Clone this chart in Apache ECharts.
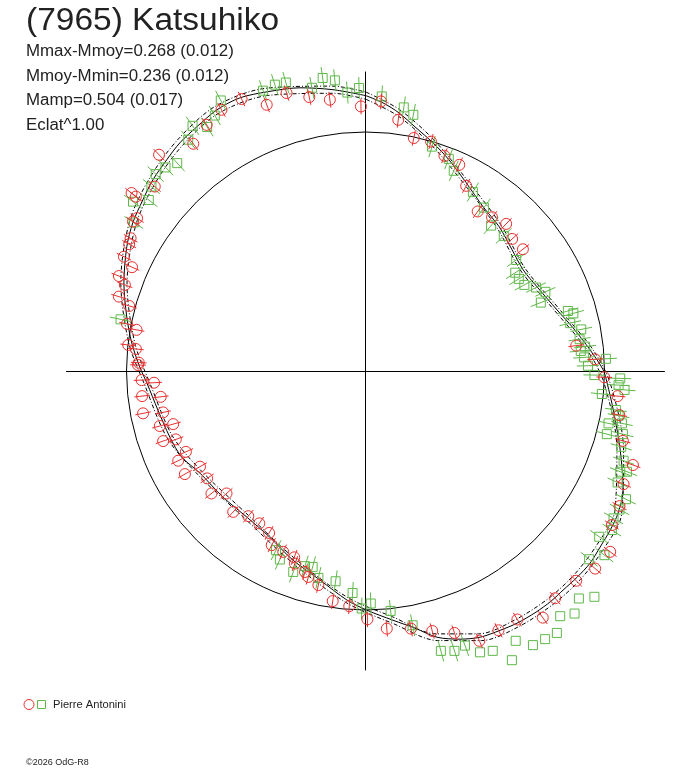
<!DOCTYPE html>
<html>
<head>
<meta charset="utf-8">
<script src="https://cdn.jsdelivr.net/npm/echarts@6/dist/echarts.min.js"></script>
<style>
html, body { margin: 0; padding: 0; background: #fff; }
#chart { width: 688px; height: 768px; }
</style>
</head>
<body>
<div id="chart"></div>
<script>
// Polar lightcurve: positions in units of the reference circle (r = 1), x right, y up.
const TITLE = '(7965) Katsuhiko';
const STATS = ['Mmax-Mmoy=0.268 (0.012)', 'Mmoy-Mmin=0.236 (0.012)', 'Mamp=0.504 (0.017)', 'Eclat^1.00'];
const OBSERVER = 'Pierre Antonini';
const CREDIT = '\u00a92026 OdG-R8';

const fitCurve = [
  [0.002,1.151],[0.073,1.121],[0.140,1.079],[0.211,1.017],[0.282,0.954],[0.349,0.883],[0.421,0.787],[0.492,0.686],
  [0.559,0.603],[0.613,0.506],[0.659,0.423],[0.718,0.351],[0.801,0.255],[0.868,0.180],[0.939,0.088],[0.994,0.004],
  [1.010,-0.050],[1.036,-0.163],[1.065,-0.331],[1.077,-0.498],[1.056,-0.594],[1.023,-0.665],[0.981,-0.736],[0.939,-0.803],
  [0.885,-0.862],[0.826,-0.916],[0.776,-0.962],[0.713,-1.008],[0.634,-1.054],[0.563,-1.084],[0.479,-1.113],[0.395,-1.121],
  [0.299,-1.113],[0.207,-1.075],[0.115,-1.042],[0.006,-1.000],[-0.077,-0.958],[-0.190,-0.874],[-0.303,-0.791],[-0.400,-0.695],
  [-0.496,-0.611],[-0.596,-0.527],[-0.692,-0.427],[-0.768,-0.360],[-0.818,-0.276],[-0.868,-0.163],[-0.914,-0.050],[-0.944,0.017],
  [-0.977,0.117],[-0.998,0.226],[-1.010,0.368],[-0.998,0.519],[-0.973,0.619],[-0.931,0.715],[-0.889,0.799],[-0.831,0.883],
  [-0.776,0.954],[-0.705,1.021],[-0.621,1.092],[-0.525,1.142],[-0.412,1.167],[-0.274,1.184],[-0.136,1.176],[0.002,1.151]
];
const outerEnv = [
  [0.002,1.166],[0.142,1.093],[0.286,0.966],[0.426,0.797],[0.566,0.611],[0.668,0.428],[0.811,0.258],[0.951,0.089],
  [1.023,-0.051],[1.079,-0.335],[1.070,-0.602],[0.994,-0.746],[0.897,-0.873],[0.786,-0.974],[0.642,-1.068],[0.485,-1.127],
  [0.303,-1.127],[0.116,-1.056],[-0.078,-0.970],[-0.307,-0.801],[-0.502,-0.619],[-0.701,-0.433],[-0.829,-0.280],[-0.926,-0.051],
  [-0.990,0.119],[-1.023,0.373],[-0.986,0.627],[-0.901,0.809],[-0.786,0.966],[-0.629,1.106],[-0.417,1.182],[-0.138,1.191],[0.002,1.166]
];
const innerEnv = [
  [0.002,1.136],[0.138,1.065],[0.278,0.942],[0.416,0.777],[0.552,0.595],[0.650,0.418],[0.791,0.252],[0.927,0.087],
  [0.997,-0.049],[1.051,-0.327],[1.042,-0.586],[0.968,-0.726],[0.873,-0.851],[0.766,-0.950],[0.626,-1.040],[0.473,-1.099],
  [0.295,-1.099],[0.114,-1.028],[-0.076,-0.946],[-0.299,-0.781],[-0.490,-0.603],[-0.683,-0.421],[-0.807,-0.272],[-0.902,-0.049],
  [-0.964,0.115],[-0.997,0.363],[-0.960,0.611],[-0.877,0.789],[-0.766,0.942],[-0.613,1.078],[-0.407,1.152],[-0.134,1.161],[0.002,1.136]
];

// [x, y, radial error]
const redPts = [
  [-0.518,1.137,0.033],[-0.413,1.113,0.033],[-0.330,1.162,0.033],[-0.235,1.145,0.033],[-0.149,1.134,0.033],[-0.019,1.106,0.033],
  [-0.602,1.092,0.033],[-0.664,1.029,0.033],[-0.720,0.950,0.033],[-0.863,0.904,0.033],[-0.881,0.771,0.033],[-0.978,0.744,0.033],
  [-0.960,0.729,0.033],[-0.955,0.639,0.033],[-0.972,0.625,0.033],[-0.982,0.555,0.033],[-0.988,0.530,0.033],[-1.010,0.478,0.033],
  [-0.976,0.434,0.033],[-1.031,0.397,0.033],[-1.006,0.360,0.033],[-1.031,0.311,0.033],[-0.988,0.272,0.033],[-0.997,0.197,0.033],
  [-0.957,0.172,0.033],[-0.992,0.109,0.033],[-0.960,0.092,0.033],[-0.948,0.035,0.033],[-0.951,0.025,0.033],[-0.936,-0.038,0.033],
  [-0.884,-0.049,0.033],[-0.934,-0.105,0.033],[-0.856,-0.108,0.033],[-0.930,-0.177,0.033],[-0.846,-0.173,0.033],[-0.860,-0.230,0.033],
  [-0.804,-0.222,0.033],[-0.846,-0.293,0.033],[-0.793,-0.286,0.033],[-0.751,-0.338,0.033],[-0.783,-0.375,0.033],[-0.692,-0.400,0.033],
  [-0.755,-0.431,0.033],[-0.662,-0.449,0.033],[-0.644,-0.512,0.033],[-0.581,-0.512,0.033],[-0.553,-0.589,0.033],[-0.490,-0.607,0.033],
  [-0.444,-0.637,0.033],[-0.403,-0.677,0.033],[-0.392,-0.728,0.033],[-0.344,-0.756,0.033],[-0.298,-0.779,0.033],[-0.295,-0.805,0.033],
  [-0.253,-0.840,0.033],[-0.239,-0.861,0.033],[-0.197,-0.895,0.033],[-0.137,-0.962,0.033],[-0.068,-0.983,0.033],[0.008,-1.038,0.033],
  [0.089,-1.077,0.033],[0.190,-1.077,0.033],[0.279,-1.087,0.033],[0.372,-1.095,0.033],[0.476,-1.128,0.033],[0.556,-1.084,0.033],
  [0.635,-1.039,0.033],[0.741,-1.031,0.033],[0.793,-0.950,0.033],[0.881,-0.877,0.033],[0.960,-0.826,0.033],[1.023,-0.756,0.033],
  [1.030,-0.644,0.033],[1.062,-0.565,0.033],[1.079,-0.473,0.033],[1.118,-0.393,0.033],[1.076,-0.292,0.033],[1.061,-0.184,0.033],
  [1.054,-0.105,0.033],[0.998,-0.026,0.033],[0.960,0.049,0.033],[0.881,0.106,0.033],[0.658,0.509,0.033],[0.613,0.552,0.033],
  [0.588,0.615,0.033],[0.529,0.643,0.033],[0.469,0.667,0.033],[0.421,0.774,0.033],[0.392,0.862,0.033],[0.330,0.900,0.033],
  [0.274,0.959,0.033],[0.202,0.974,0.033],[0.137,1.050,0.033],[0.065,1.127,0.033]
];
const greenPts = [
  [-0.428,1.172,0.046],[-0.379,1.197,0.046],[-0.333,1.206,0.046],[-0.224,1.184,0.046],[-0.179,1.225,0.046],[-0.128,1.215,0.046],
  [-0.076,1.164,0.046],[-0.027,1.183,0.046],[-0.605,1.131,0.046],[-0.630,1.068,0.046],[-0.662,1.020,0.046],[-0.723,1.025,0.046],
  [-0.741,0.967,0.046],[-0.787,0.869,0.046],[-0.836,0.851,0.046],[-0.877,0.823,0.046],[-0.895,0.771,0.046],[-0.906,0.715,0.046],
  [-0.972,0.708,0.046],[-0.969,0.621,0.046],[-1.024,0.216,0.046],
  [0.068,1.148,0.046],[0.160,1.102,0.046],[0.200,1.071,0.046],[0.278,0.938,0.046],[0.348,0.887,0.046],[0.369,0.837,0.046],
  [0.449,0.748,0.046],[0.495,0.683,0.046],[0.525,0.608,0.046],[0.578,0.565,0.046],[0.630,0.464,0.046],[0.626,0.411,0.046],
  [0.641,0.385,0.046],[0.664,0.360,0.046],[0.713,0.349,0.046],[0.752,0.331,0.046],[0.733,0.286,0.046],[0.846,0.251,0.046],
  [0.869,0.241,0.046],[0.856,0.200,0.046],[0.902,0.174,0.046],[0.895,0.133,0.046],[0.918,0.102,0.046],[0.900,0.084,0.046],
  [0.914,0.057,0.046],[1.005,0.051,0.046],[0.930,0.022,0.046],[0.957,-0.017,0.046],[1.065,-0.031,0.046],[1.058,-0.059,0.046],
  [1.083,-0.079,0.046],[0.988,-0.096,0.046],[1.047,-0.163,0.046],[1.058,-0.187,0.046],[1.016,-0.219,0.046],[1.072,-0.219,0.046],
  [1.009,-0.264,0.046],[1.076,-0.264,0.046],[1.069,-0.317,0.046],[1.079,-0.375,0.046],[1.065,-0.421,0.046],[1.093,-0.421,0.046],
  [1.054,-0.466,0.046],[1.089,-0.536,0.046],[1.062,-0.579,0.046],[1.037,-0.616,0.046],[1.030,-0.665,0.046],[0.977,-0.693,0.046],
  [0.999,-0.770,0.046],[0.935,-0.787,0.046],
  [0.892,-0.951,0],[0.957,-0.944,0],[0.814,-1.025,0],[0.874,-1.014,0],[0.800,-1.095,0],[0.751,-1.121,0],[0.700,-1.146,0],
  [0.628,-1.128,0],[0.612,-1.209,0],[0.532,-1.170,0],[0.479,-1.176,0],
  [0.416,-1.148,0.046],[0.372,-1.170,0.046],[0.315,-1.170,0.046],[0.197,-1.063,0.046],
  [-0.374,-0.749,0.046],[-0.358,-0.788,0.046],[-0.302,-0.840,0.046],[-0.253,-0.816,0.046],[-0.221,-0.819,0.046],[-0.197,-0.865,0.046],
  [-0.125,-0.879,0.046],[-0.054,-0.928,0.046],[0.022,-0.972,0.046],[-0.016,-0.993,0.046],[0.105,-1.003,0.046]
];

const RED = '#e8302f';
const GREEN = '#5fb849';
const INK = '#222';
const FONT = '"Liberation Sans", Arial, sans-serif';
const LIM = 1.25;

function obsSeries(name, data, color, shape) {
  return {
    type: 'custom', name, coordinateSystem: 'cartesian2d', data, z: 3,
    encode: { x: 0, y: 1 },
    renderItem(params, api) {
      const x = api.value(0), y = api.value(1), e = api.value(2);
      const c = api.coord([x, y]);
      const r = Math.hypot(x, y) || 1;
      const kids = [];
      if (e > 0) {
        const a = api.coord([x - e * x / r, y - e * y / r]);
        const b = api.coord([x + e * x / r, y + e * y / r]);
        kids.push({ type: 'line', shape: { x1: a[0], y1: a[1], x2: b[0], y2: b[1] },
                    style: { stroke: color, lineWidth: 1 } });
      }
      if (shape === 'circle') {
        kids.push({ type: 'circle', shape: { cx: c[0], cy: c[1], r: 5.5 },
                    style: { fill: 'none', stroke: color, lineWidth: 1 } });
      } else {
        kids.push({ type: 'rect', shape: { x: c[0] - 4.5, y: c[1] - 4.5, width: 9, height: 9 },
                    style: { fill: 'none', stroke: color, lineWidth: 1 } });
      }
      return { type: 'group', children: kids };
    }
  };
}

function curve(data, dashed) {
  return {
    type: 'line', data, showSymbol: false, smooth: 0.3, silent: true, z: 2,
    lineStyle: { color: '#000', width: 1, type: dashed ? [4, 2, 1, 2] : 'solid' }
  };
}

// text anchored at its left end, vertically centred on y, stretched a little to match the original font
function label(text, x, y, size, stretch) {
  return { type: 'text', x, y, scaleX: stretch,
           style: { text, font: size + 'px ' + FONT, fill: INK, verticalAlign: 'middle' } };
}

const hidden = { axisTick: { show: false }, axisLabel: { show: false }, splitLine: { show: false } };

const texts = [label(TITLE, 26, 21, 31, 1.08)]
  .concat(STATS.map((s, i) => label(s, 26, 51.7 + i * 24.5, 16, 1.055)))
  .concat([
    { type: 'circle', shape: { cx: 29, cy: 704.5, r: 5 }, style: { fill: 'none', stroke: RED, lineWidth: 1 } },
    { type: 'rect', shape: { x: 37.5, y: 700.5, width: 8, height: 8 }, style: { fill: 'none', stroke: GREEN, lineWidth: 1 } },
    label(OBSERVER, 53, 705.5, 10.5, 1.06),
    label(CREDIT, 26, 763, 9, 1)
  ]);

const chart = echarts.init(document.getElementById('chart'), null, { renderer: 'canvas' });
chart.setOption({
  backgroundColor: '#fff',
  animation: false,
  grid: { left: 66.5, top: 72, width: 598, height: 598 },
  xAxis: { type: 'value', min: -LIM, max: LIM, axisLine: { onZero: true, lineStyle: { color: '#000', width: 1 } }, ...hidden },
  yAxis: { type: 'value', min: -LIM, max: LIM, axisLine: { onZero: true, lineStyle: { color: '#000', width: 1 } }, ...hidden },
  polar: { center: [365.5, 371], radius: 239 },
  angleAxis: { type: 'value', min: 0, max: 360, axisLine: { show: true, lineStyle: { color: '#000', width: 1 } }, ...hidden },
  radiusAxis: { type: 'value', min: 0, max: 1, show: false },
  graphic: texts,
  series: [
    obsSeries('green', greenPts, GREEN, 'square'),
    obsSeries('red', redPts, RED, 'circle'),
    curve(outerEnv, true),
    curve(innerEnv, true),
    curve(fitCurve, false)
  ]
});
</script>
</body>
</html>
